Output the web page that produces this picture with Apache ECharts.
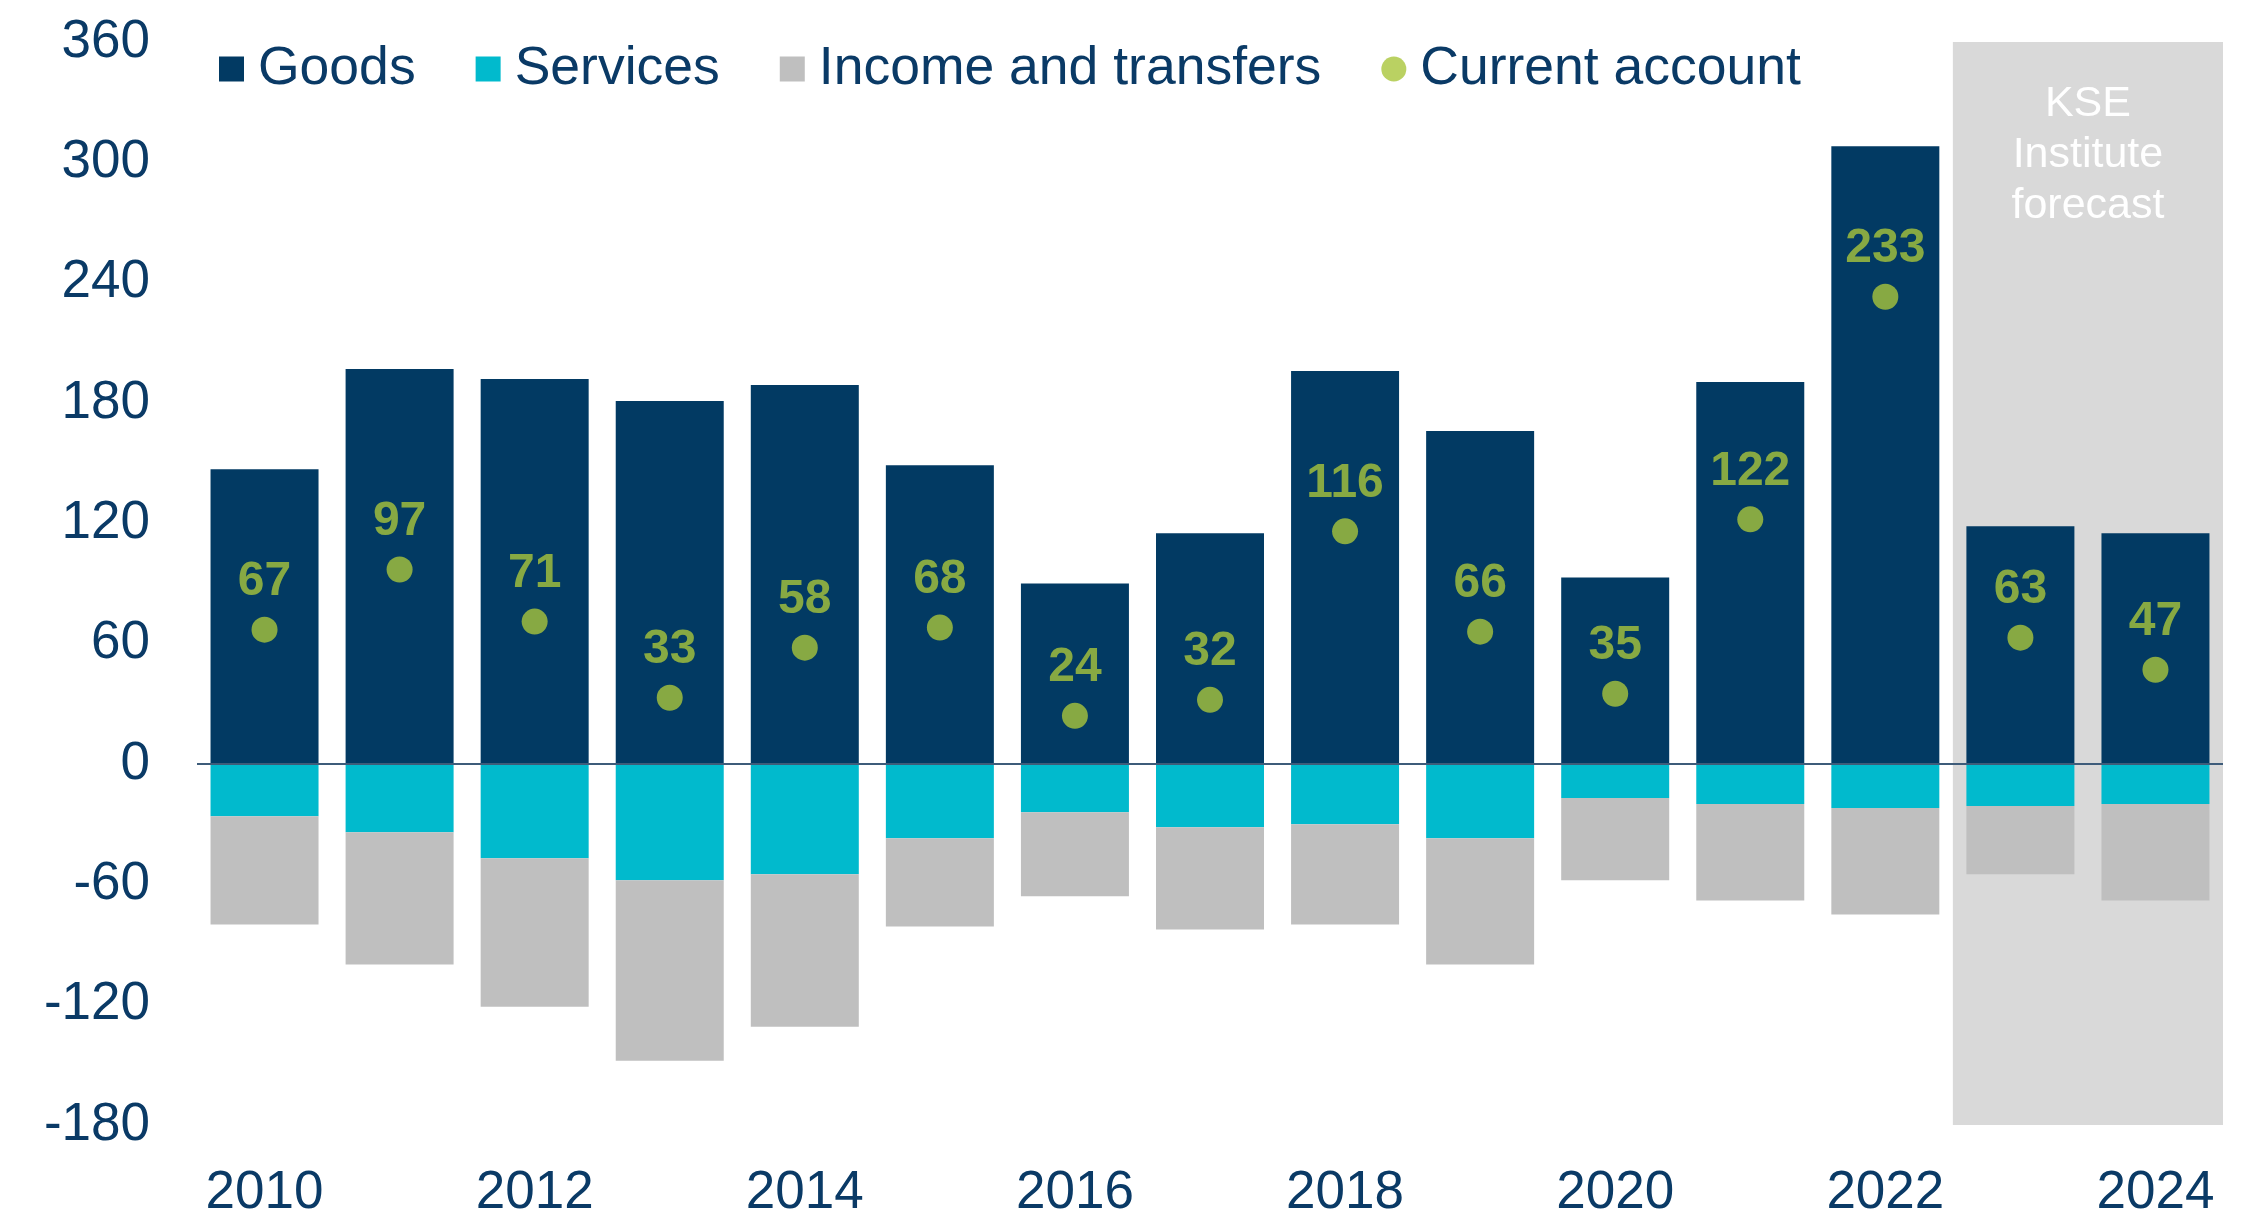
<!DOCTYPE html>
<html>
<head>
<meta charset="utf-8">
<script src="https://cdn.jsdelivr.net/npm/echarts@6/dist/echarts.min.js"></script>
<style>
  html, body { margin: 0; padding: 0; background: #fff; }
  #chart { width: 2263px; height: 1212px; }
</style>
</head>
<body>
<div id="chart"></div>
<script>
const years = ['2010', '2011', '2012', '2013', '2014', '2015', '2016', '2017', '2018', '2019', '2020', '2021', '2022', '2023', '2024'];
const goods = [147, 197, 192, 181, 189, 149, 90, 115, 196, 166, 93, 190.5, 308, 118.5, 115];
const services = [-26, -34, -47, -58, -55, -37, -24, -31.5, -30, -37, -17, -20, -22, -21, -20];
const income = [-54, -66, -74, -90, -76, -44, -42, -51, -50, -63, -41, -48, -53, -34, -48];
const currentAccount = [67, 97, 71, 33, 58, 68, 24, 32, 116, 66, 35, 122, 233, 63, 47];
const yTicks = [-180, -120, -60, 0, 60, 120, 180, 240, 300, 360];

const navy = '#023A63';
const textColor = '#0A3A66';
const green = '#A9C63B';
const font = "'Liberation Sans', Arial, sans-serif";

const chart = echarts.init(document.getElementById('chart'));

const option = {
  animation: false,
  textStyle: { fontFamily: font },
  grid: { left: 197, right: 40, top: 42, bottom: 87, outerBoundsMode: 'none' },
  legend: {
    left: 214,
    top: 37,
    itemWidth: 25,
    itemHeight: 25,
    itemGap: 60,
    textStyle: { color: textColor, fontSize: 53.5, fontFamily: font, padding: [0, 0, 0, 9] },
    data: [
      { name: 'Goods', icon: 'rect' },
      { name: 'Services', icon: 'rect' },
      { name: 'Income and transfers', icon: 'rect' },
      { name: 'Current account', icon: 'circle' }
    ]
  },
  xAxis: [
    {
      type: 'category',
      data: years,
      axisLine: { show: false, onZero: false },
      axisTick: { show: false },
      axisLabel: { interval: 1, color: textColor, fontSize: 53, margin: 42 }
    },
    {
      // helper axis for the forecast shading
      type: 'value', min: -0.5, max: 14.5, show: false
    }
  ],
  yAxis: {
    type: 'value',
    min: yTicks[0],
    max: yTicks[yTicks.length - 1],
    interval: 60,
    axisLine: { show: false },
    axisTick: { show: false },
    splitLine: { show: false },
    axisLabel: { color: textColor, fontSize: 53, margin: 47 }
  },
  series: [
    {
      name: 'forecast',
      type: 'line',
      xAxisIndex: 1,
      data: [],
      z: 1,
      silent: true,
      markArea: {
        silent: true,
        itemStyle: { color: '#D9D9D9' },
        label: {
          show: true,
          position: 'insideTop',
          distance: 37,
          formatter: 'KSE\nInstitute\nforecast',
          color: '#ffffff',
          fontSize: 43,
          lineHeight: 51,
          align: 'center'
        },
        data: [[{ xAxis: 12.5, yAxis: 360 }, { xAxis: 14.5, yAxis: -180 }]]
      }
    },
    {
      name: 'Goods', type: 'bar', stack: 'ca', data: goods,
      barWidth: 108, itemStyle: { color: navy }, z: 2
    },
    {
      name: 'Services', type: 'bar', stack: 'ca', data: services,
      itemStyle: { color: '#01BACD' }, z: 2
    },
    {
      name: 'Income and transfers', type: 'bar', stack: 'ca', data: income,
      itemStyle: { color: '#BFBFBF' }, z: 2
    },
    {
      name: 'Current account', type: 'scatter', data: currentAccount,
      symbolSize: 26, itemStyle: { color: green }, z: 5,
      label: {
        show: true, position: 'top', distance: 11,
        color: green, fontSize: 48, fontWeight: 'bold'
      },
      markLine: {
        silent: true, symbol: 'none',
        label: { show: false },
        lineStyle: { color: '#3E5C7A', width: 2, type: 'solid' },
        data: [{ yAxis: 0 }]
      }
    }
  ]
};

chart.setOption(option);
</script>
</body>
</html>
